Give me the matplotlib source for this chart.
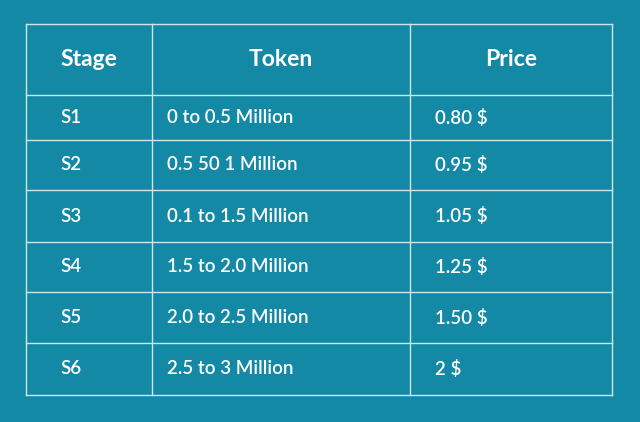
import matplotlib
matplotlib.use("Agg")
import matplotlib.pyplot as plt

headers = ["Stage", "Token", "Price"]
stages = ["S1", "S2", "S3", "S4", "S5", "S6"]
tokens = ["0 to 0.5 Million", "0.5 50 1 Million", "0.1 to 1.5 Million",
          "1.5 to 2.0 Million", "2.0 to 2.5 Million", "2.5 to 3 Million"]
prices = ["0.80 $", "0.95 $", "1.05 $", "1.25 $", "1.50 $", "2 $"]

bg = "#1389a6"
fig = plt.figure(figsize=(6.4, 4.22), dpi=100, facecolor=bg)
ax = fig.add_axes([0, 0, 1, 1])
ax.set_xlim(0, 640); ax.set_ylim(422, 0); ax.axis("off")
ax.set_facecolor(bg)

col_edges = [26, 152, 410, 612]
row_edges = [24, 95, 140, 190, 242, 292, 343, 395]
lc = "#cfe6ec"
for x in col_edges:
    ax.plot([x, x], [row_edges[0], row_edges[-1]], color=lc, lw=1)
for y in row_edges:
    ax.plot([col_edges[0], col_edges[-1]], [y, y], color=lc, lw=1)

font = "Lato"
for i, h in enumerate(headers):
    ax.text((col_edges[i] + col_edges[i+1]) / 2, (row_edges[0] + row_edges[1]) / 2, h,
            color="white", fontsize=16.5, fontweight="bold", ha="center", va="center", family=font)
text_x = [60, 167, 435]
for r in range(len(stages)):
    yc = (row_edges[r+1] + row_edges[r+2]) / 2
    for j, v in enumerate([stages[r], tokens[r], prices[r]]):
        ax.text(text_x[j], yc, v, color="white", fontsize=13.5, fontweight="semibold",
                ha="left", va="center", family=font)

fig.savefig("out.png", dpi=100, facecolor=bg)
